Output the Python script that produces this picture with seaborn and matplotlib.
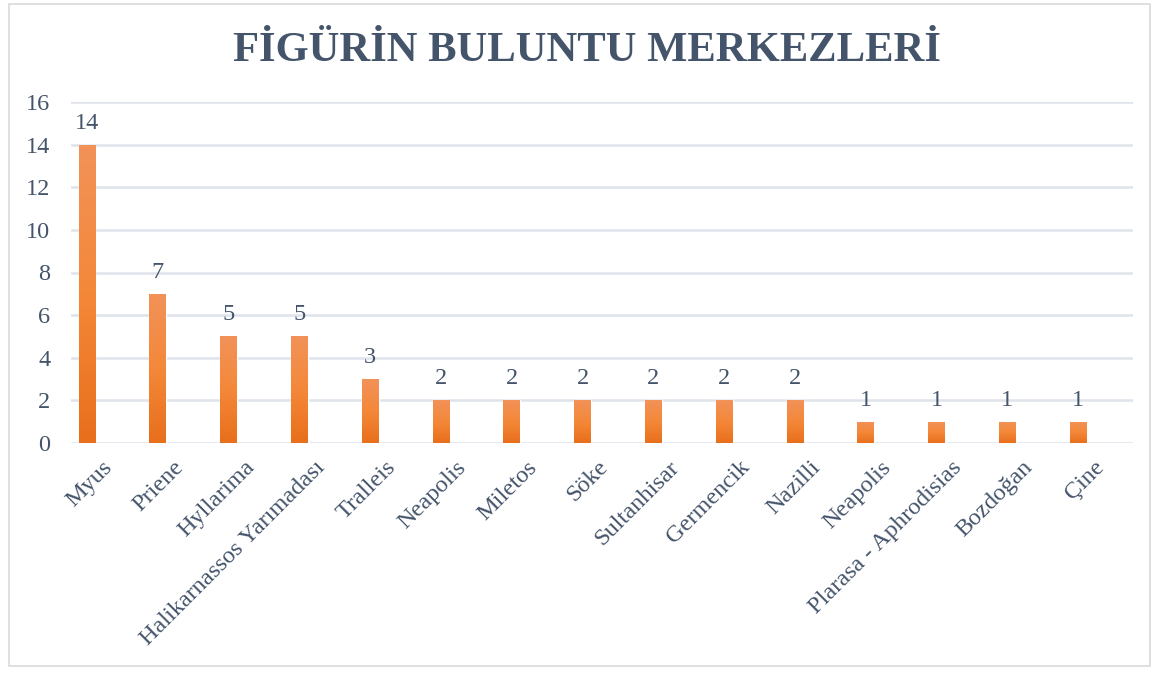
import numpy as np
import pandas as pd
import matplotlib
matplotlib.use("Agg")
import matplotlib.pyplot as plt
import matplotlib.transforms as mtransforms
from matplotlib.patches import Rectangle
from matplotlib.colors import LinearSegmentedColormap
import seaborn as sns

categories = ["Myus", "Priene", "Hyllarima", "Halikarnassos Yarımadası", "Tralleis",
              "Neapolis", "Miletos", "Söke", "Sultanhisar", "Germencik", "Nazilli",
              "Neapolis", "Plarasa - Aphrodisias", "Bozdoğan", "Çine"]
counts = [14, 7, 5, 5, 3, 2, 2, 2, 2, 2, 2, 1, 1, 1, 1]
yticks = [0, 2, 4, 6, 8, 10, 12, 14, 16]
title = "FİGÜRİN BULUNTU MERKEZLERİ"

sns.set_theme(style="white")
plt.rcParams['font.family'] = ['Liberation Serif', 'DejaVu Serif']

TEXT = "#44546A"
GRID = "#DFE3EA"

df = pd.DataFrame({"idx": list(range(len(categories))), "count": counts})

fig = plt.figure(figsize=(11.6, 6.73), dpi=100)
ax = fig.add_axes([71/1160, 230/673, 1062/1160, 341/673])

sns.barplot(data=df, x="idx", y="count", color="#F07F2D", width=0.24, ax=ax,
            saturation=1, zorder=3)

# gradient fill for bars
cmap = LinearSegmentedColormap.from_list("og", ["#E86F1C", "#F48839", "#F29259"])
grad = np.linspace(0, 1, 256).reshape(-1, 1)
for p in ax.patches:
    x0, y0 = p.get_x(), p.get_y()
    w, h = p.get_width(), p.get_height()
    im = ax.imshow(grad, cmap=cmap, aspect="auto", origin="lower",
                   extent=[x0, x0 + w, y0, y0 + h], zorder=4)
    im.set_clip_path(p)

ax.set_xlim(-0.226, len(categories) - 0.226)
ax.set_ylim(0, 16)
ax.set_yticks(yticks)
ax.set_yticklabels([str(t) for t in yticks], fontsize=17.5, color=TEXT)
ax.yaxis.grid(True, color=GRID, linewidth=1.8, zorder=0)
ax.set_axisbelow(True)
for s in ax.spines.values():
    s.set_visible(False)
ax.tick_params(axis="y", length=0, pad=15)
ax.tick_params(axis="x", length=0, pad=10)
ax.set_xlabel("")
ax.set_ylabel("")

ax.set_xticks(range(len(categories)))
ax.set_xticklabels(categories, rotation=45, ha="right", rotation_mode="anchor",
                   fontsize=17.5, color=TEXT)
offset = mtransforms.ScaledTranslation(15/100, 0, fig.dpi_scale_trans)
for lab in ax.get_xticklabels():
    lab.set_transform(lab.get_transform() + offset)

for c in ax.containers:
    ax.bar_label(c, labels=[str(v) for v in counts], padding=8, fontsize=17.5, color=TEXT)

fig.text(587/1160, 1 - 61/673, title, ha="center", va="baseline", fontsize=30.7,
         fontweight="bold", color=TEXT)

fig.patches.append(Rectangle((9/1160, 1 - 666/673), 1141/1160, 662/673,
                             transform=fig.transFigure, fill=False,
                             edgecolor="#D9D9D9", linewidth=1.2))

fig.savefig("out.png", dpi=100)
